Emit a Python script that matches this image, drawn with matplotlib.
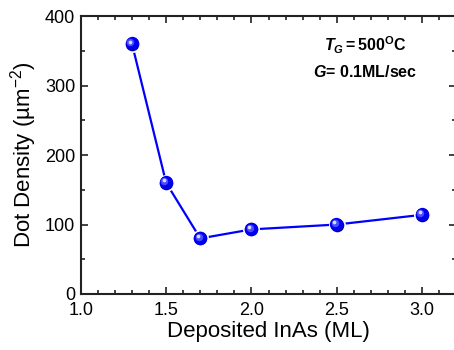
import matplotlib
matplotlib.use("Agg")
import matplotlib.pyplot as plt
from matplotlib.transforms import offset_copy
from matplotlib.ticker import MultipleLocator

plt.rcParams['font.family'] = ['Liberation Sans', 'DejaVu Sans']
plt.rcParams['mathtext.fontset'] = 'custom'
plt.rcParams['mathtext.rm'] = 'Liberation Sans'
plt.rcParams['mathtext.it'] = 'Liberation Sans:italic:bold'
plt.rcParams['mathtext.bf'] = 'Liberation Sans:bold'

# Deposited InAs thickness (ML) and measured dot density (per um^2)
thickness = [1.3, 1.5, 1.7, 2.0, 2.5, 3.0]
density = [360, 160, 80, 93, 100, 114]

fig = plt.figure(figsize=(4.54, 3.5), dpi=100)
ax = fig.add_axes([0.178, 0.16, 0.827, 0.794])

ax.plot(thickness, density, color='#0000ff', lw=1.6, zorder=2)

# shaded spheres: white halo, dark rim, blue body, light highlight
ax.plot(thickness, density, 'o', ms=11, mfc='#000090', mec='white', mew=1.2, zorder=3)
ax.plot(thickness, density, 'o', ms=9.6, mfc='#0000f0', mec='none', zorder=4,
        transform=offset_copy(ax.transData, fig, x=-0.3, y=0.3, units='points'))
ax.plot(thickness, density, 'o', ms=5.4, mfc='#4a4aff', mec='none', zorder=5,
        transform=offset_copy(ax.transData, fig, x=-1.2, y=1.2, units='points'))
ax.plot(thickness, density, 'o', ms=2.7, mfc='#d8d8ff', mec='none', zorder=6,
        transform=offset_copy(ax.transData, fig, x=-1.7, y=1.7, units='points'))

ax.set_xlim(1.0, 3.2)
ax.set_ylim(0, 400)
ax.xaxis.set_major_locator(MultipleLocator(0.5))
ax.xaxis.set_minor_locator(MultipleLocator(0.1))
ax.yaxis.set_major_locator(MultipleLocator(100))
ax.yaxis.set_minor_locator(MultipleLocator(50))
ax.set_xticks([1.0, 1.5, 2.0, 2.5, 3.0])
ax.set_xticklabels(['1.0', '1.5', '2.0', '2.5', '3.0'])

ax.tick_params(which='both', direction='in', top=True, right=True,
               labelsize=13, width=1.2, color='#222222')
ax.tick_params(which='major', length=5, pad=4)
ax.tick_params(axis='x', which='major', pad=6)
ax.tick_params(which='minor', length=3)
for s in ax.spines.values():
    s.set_linewidth(1.5)
    s.set_color('#222222')

ax.set_xlabel('Deposited InAs (ML)', fontsize=16, labelpad=1)
ax.set_ylabel('Dot Density (µm$^{-2}$)', fontsize=16, labelpad=4)

ax.text(0.757, 0.895, r'$\mathit{T}_{\mathit{G}}\mathbf{=500^{O}C}$',
        transform=ax.transAxes, ha='center', va='center', fontsize=11.5)
ax.text(0.757, 0.80, r'$\mathit{G}$= 0.1ML/sec', transform=ax.transAxes,
        ha='center', va='center', fontsize=11.5, fontweight='bold')

fig.savefig('out.png', dpi=100)
